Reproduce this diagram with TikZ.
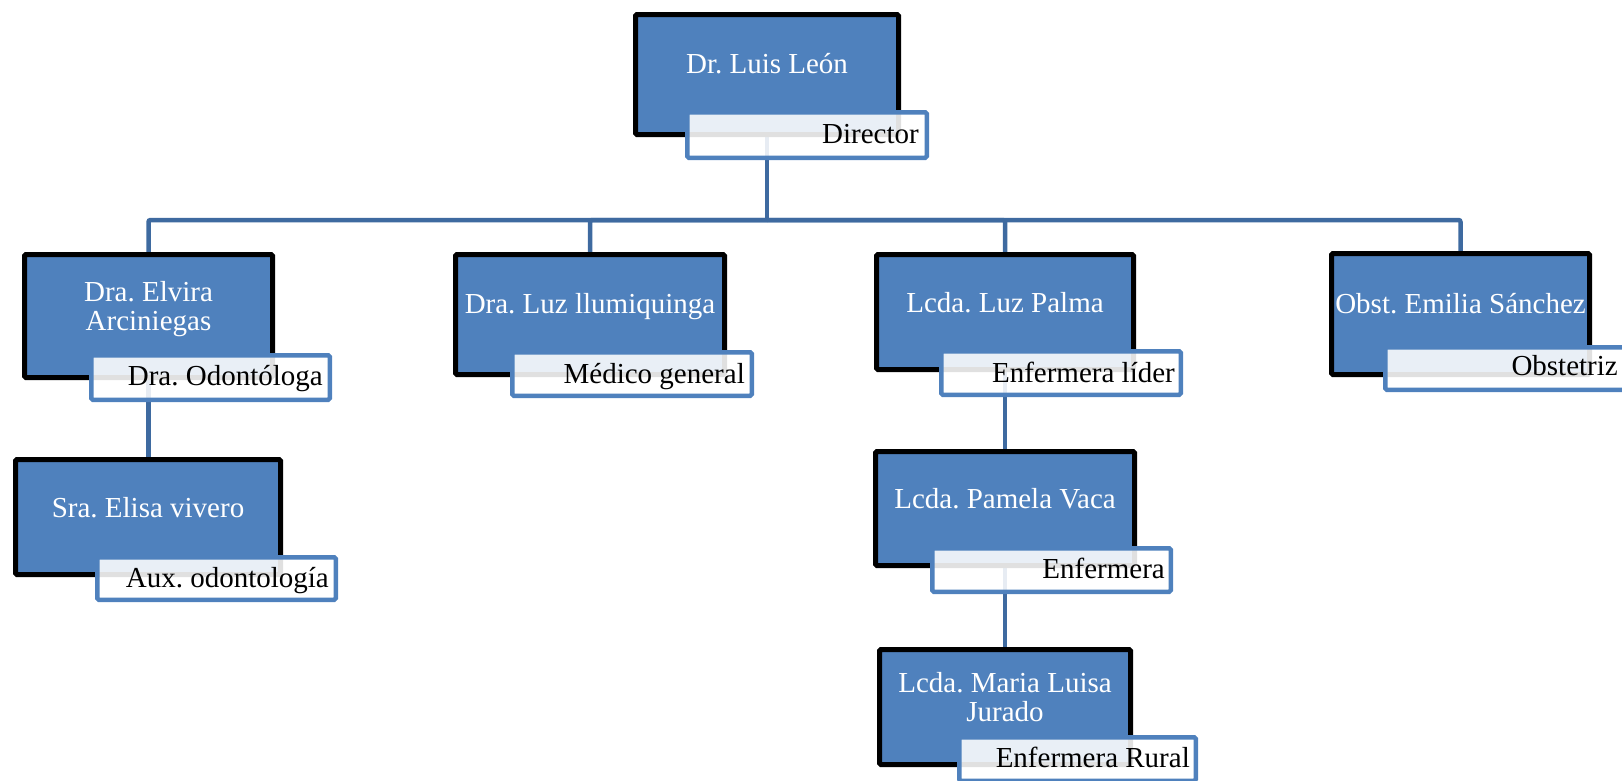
\documentclass[tikz,border=0pt]{standalone}
\usepackage{fontspec}
\setmainfont{Liberation Serif}
\usetikzlibrary{calc}
\definecolor{boxblue}{HTML}{4F81BD}
\definecolor{connblue}{RGB}{62,106,160}
\definecolor{lblblue}{HTML}{4F81BD}
\pgfdeclarelayer{bg}
\pgfsetlayers{bg,main}
\frenchspacing
\begin{document}
\begin{tikzpicture}[x=1pt,y=-1pt,
  person/.style={draw=black, line width=5pt, fill=boxblue, rounded corners=1.5pt, inner sep=0pt},
  rolebox/.style={draw=lblblue, line width=4.5pt, fill=white, fill opacity=0.88, draw opacity=1, rounded corners=1.5pt, inner sep=0pt},
  nametext/.style={text=white, font=\fontsize{29}{29}\selectfont\frenchspacing, inner sep=0pt, anchor=base},
  roletext/.style={text=black, font=\fontsize{29}{29}\selectfont\frenchspacing, inner sep=0pt, anchor=base east},
  conn/.style={draw=connblue, line width=4.5pt, rounded corners=2pt}]
\useasboundingbox (0,0) rectangle (1622,780);
\clip (0,0) rectangle (1622,780);

% person boxes
\node[person, minimum width=263pt, minimum height=120pt] (leon) at (767,74.5) {};
\node[person, minimum width=248pt, minimum height=123pt] (elvira) at (148.5,316) {};
\node[person, minimum width=269pt, minimum height=120pt] (luzll) at (590,314.5) {};
\node[person, minimum width=257pt, minimum height=115pt] (palma) at (1005,312) {};
\node[person, minimum width=258pt, minimum height=121pt] (emilia) at (1460.5,314) {};
\node[person, minimum width=265pt, minimum height=115pt] (elisa) at (148,517) {};
\node[person, minimum width=259pt, minimum height=114pt] (pamela) at (1005,508.5) {};
\node[person, minimum width=251pt, minimum height=115pt] (maria) at (1005,707) {};

% role boxes
\node[rolebox, minimum width=239.5pt, minimum height=45.5pt] (leonL) at (807,135) {};
\node[rolebox, minimum width=238.5pt, minimum height=44.5pt] (elviraL) at (210.5,377.5) {};
\node[rolebox, minimum width=239.5pt, minimum height=43.5pt] (luzllL) at (632,374) {};
\node[rolebox, minimum width=239.5pt, minimum height=43.5pt] (palmaL) at (1061,373) {};
\node[rolebox, minimum width=239.5pt, minimum height=42.5pt] (emiliaL) at (1505,368.5) {};
\node[rolebox, minimum width=238.5pt, minimum height=42.5pt] (elisaL) at (216.5,578.5) {};
\node[rolebox, minimum width=238.5pt, minimum height=43.5pt] (pamelaL) at (1051.5,570) {};
\node[rolebox, minimum width=236.5pt, minimum height=43.5pt] (mariaL) at (1077.5,759) {};

% names
\node[nametext] (leonN) at (767,73) {Dr. Luis León};
\node[nametext] (elviraN) at (148.5,301) {\begin{tabular}[t]{@{}c@{}}Dra. Elvira\\Arciniegas\end{tabular}};
\node[nametext] (luzllN) at (590,313) {Dra. Luz llumiquinga};
\node[nametext] (palmaN) at (1005,312) {Lcda. Luz Palma};
\node[nametext] (emiliaN) at (1460.5,313) {Obst. Emilia Sánchez};
\node[nametext] (elisaN) at (148,517) {Sra. Elisa vivero};
\node[nametext] (pamelaN) at (1005,508) {Lcda. Pamela Vaca};
\node[nametext] (mariaN) at (1005,692) {\begin{tabular}[t]{@{}c@{}}Lcda. Maria Luisa\\Jurado\end{tabular}};

% roles
\node[roletext] (leonR) at (919,143) {Director};
\node[roletext] (elviraR) at (323,385) {Dra. Odontóloga};
\node[roletext] (luzllR) at (745,383) {Médico general};
\node[roletext] (palmaR) at (1175,382) {Enfermera líder};
\node[roletext] (emiliaR) at (1618,375) {Obstetriz};
\node[roletext] (elisaR) at (329,587) {Aux. odontología};
\node[roletext] (pamelaR) at (1165,578) {Enfermera};
\node[roletext] (mariaR) at (1190,767) {Enfermera Rural};

% connectors
\begin{pgfonlayer}{bg}
\coordinate (bar) at (0,220);
\draw[conn] (leon) -- (leon |- bar);
\draw[conn] (leon |- bar) -| (elvira);
\draw[conn] (leon |- bar) -| (luzll);
\draw[conn] (leon |- bar) -| (palma);
\draw[conn] (leon |- bar) -| (emilia);
\draw[conn] (elvira) -- (elvira |- elisa.north);
\draw[conn] (palma) -- (pamela);
\draw[conn] (pamela) -- (maria);
\end{pgfonlayer}
\end{tikzpicture}
\end{document}
